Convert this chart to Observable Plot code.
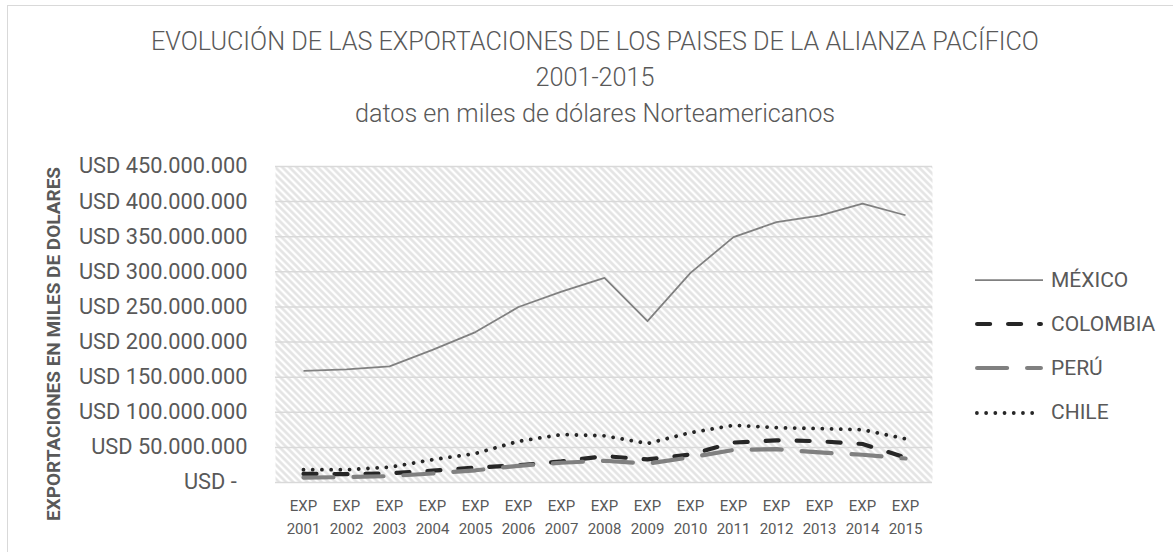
<!DOCTYPE html>
<html>
<head>
<meta charset="utf-8">
<script src="https://cdn.jsdelivr.net/npm/d3@7"></script>
<script src="https://cdn.jsdelivr.net/npm/@observablehq/plot@0.6"></script>
<style>
html, body { margin: 0; padding: 0; background: #fff; overflow: hidden; }
#chart { position: relative; width: 1173px; height: 552px; font-family: Roboto, sans-serif; color: #595959; overflow: hidden; }
#border { position: absolute; left: 7px; top: 5px; width: 1200px; height: 600px; border: 1px solid #d9d9d9; box-sizing: border-box; }
#title { position: absolute; left: 0; top: 24px; width: 1190px; text-align: center; font-size: 25.2px; line-height: 36px; font-weight: 300; }
#ylabel { position: absolute; left: 53px; top: 344px; transform: translate(-50%, -50%) rotate(-90deg); white-space: nowrap; font-size: 19px; font-weight: bold; line-height: 1; color: #595959; }
#plot { position: absolute; left: 0; top: 150px; }
#plot g[aria-label="y-axis tick label"], #plot g[aria-label="y-axis tick label"] text { font-size: 21.8px; }
#legend { position: absolute; left: 975px; top: 258px; }
.row { display: flex; align-items: center; height: 44.2px; font-size: 21px; line-height: 1; }
.row svg { display: block; margin-right: 8px; }
</style>
</head>
<body>
<div id="chart">
  <div id="border"></div>
  <div id="title">
    <div>EVOLUCIÓN DE LAS EXPORTACIONES DE LOS PAISES DE LA ALIANZA PACÍFICO</div>
    <div>2001-2015</div>
    <div>datos en miles de dólares Norteamericanos</div>
  </div>
  <div id="ylabel"></div>
  <div id="plot"></div>
  <div id="legend"></div>
</div>
<script>
// Categories
const years = ["2001","2002","2003","2004","2005","2006","2007","2008","2009","2010","2011","2012","2013","2014","2015"];
// Series values (thousands of USD)
const mexico   = [158800000,161000000,165400000,188800000,214200000,249900000,271800000,291300000,229700000,298500000,349400000,370800000,380000000,397100000,380600000];
const colombia = [12300000,11900000,13100000,16800000,21200000,24400000,30000000,37600000,32900000,39800000,56900000,60100000,58800000,54800000,35700000];
const peru     = [7000000,7700000,9100000,12800000,17400000,23800000,28100000,31000000,26900000,35800000,46400000,47400000,42900000,39500000,34200000];
const chile    = [18300000,18200000,21700000,32500000,41300000,58700000,68300000,66500000,55500000,71000000,81400000,78100000,76800000,75100000,62200000];
// Series names
const names = ["MÉXICO","COLOMBIA","PERÚ","CHILE"];
// Y tick values
const yTicks = [0,50000000,100000000,150000000,200000000,250000000,300000000,350000000,400000000,450000000];
const yLabel = "EXPORTACIONES EN MILES DE DOLARES";
const xPrefix = "EXP";

document.getElementById("ylabel").textContent = yLabel;

const seriesValues = [mexico, colombia, peru, chile];
const styles = [
  {stroke: "#808080", strokeWidth: 1.75, dash: null, cap: "butt"},
  {stroke: "#262626", strokeWidth: 4.2, dash: "13,18", cap: "round"},
  {stroke: "#808080", strokeWidth: 4.2, dash: "30,20", cap: "round"},
  {stroke: "#262626", strokeWidth: 3.8, dash: "0.01,9.2", cap: "round"}
];

const data = names.flatMap((n, s) => seriesValues[s].map((v, i) => ({pais: n, year: years[i], value: v})));

const fmt = d => d === 0 ? "USD -\u00a0\u00a0" : "USD " + d3.format(",")(d).replace(/,/g, ".");

function hatchDefs() {
  const defs = d3.create("svg:defs");
  const pat = defs.append("pattern")
    .attr("id", "hatchpat")
    .attr("patternUnits", "userSpaceOnUse")
    .attr("width", 5).attr("height", 5)
    .attr("patternTransform", "rotate(-45)");
  pat.append("rect").attr("width", 5).attr("height", 5).attr("fill", "#ffffff");
  pat.append("line").attr("x1", 2.5).attr("y1", -1).attr("x2", 2.5).attr("y2", 6)
    .attr("stroke", "#e2e2e2").attr("stroke-width", 2.5);
  return defs.node();
}

const lineMarks = names.map((n, s) => Plot.line(data.filter(d => d.pais === n), {
  x: "year", y: "value",
  stroke: styles[s].stroke,
  strokeWidth: styles[s].strokeWidth,
  strokeDasharray: styles[s].dash,
  strokeLinecap: styles[s].cap,
  strokeLinejoin: "round"
}));

const chart = Plot.plot({
  width: 1173,
  height: 402,
  marginLeft: 275,
  marginRight: 241,
  marginTop: 16,
  marginBottom: 70,
  style: {fontFamily: "Roboto, sans-serif", color: "#595959", background: "transparent", overflow: "visible"},
  x: {type: "point", domain: years, padding: 0.5},
  y: {domain: [0, 450000000]},
  marks: [
    hatchDefs,
    Plot.frame({fill: "url(#hatchpat)", stroke: null}),
    Plot.gridY(yTicks, {stroke: "#d9d9d9", strokeOpacity: 1, strokeWidth: 1.5}),
    Plot.axisY(yTicks, {tickSize: 0, tickPadding: 28, tickFormat: fmt, fontSize: 21.8, label: null}),
    Plot.axisX(years, {tickSize: 0, tickPadding: 13, tickFormat: y => xPrefix + "\n" + y, fontSize: 15, lineHeight: 1.5, label: null}),
    ...lineMarks
  ]
});
document.getElementById("plot").appendChild(chart);

// Legend
const legend = d3.select("#legend");
names.forEach((n, s) => {
  const row = legend.append("div").attr("class", "row");
  const sv = row.append("svg").attr("width", 68).attr("height", 12);
  const st = styles[s];
  const pad = st.cap === "round" ? st.strokeWidth / 2 : 0;
  sv.append("line")
    .attr("x1", pad).attr("x2", 68 - pad).attr("y1", 6).attr("y2", 6)
    .attr("stroke", st.stroke).attr("stroke-width", st.strokeWidth)
    .attr("stroke-dasharray", st.dash).attr("stroke-linecap", st.cap);
  row.append("span").text(n);
});
</script>
</body>
</html>
